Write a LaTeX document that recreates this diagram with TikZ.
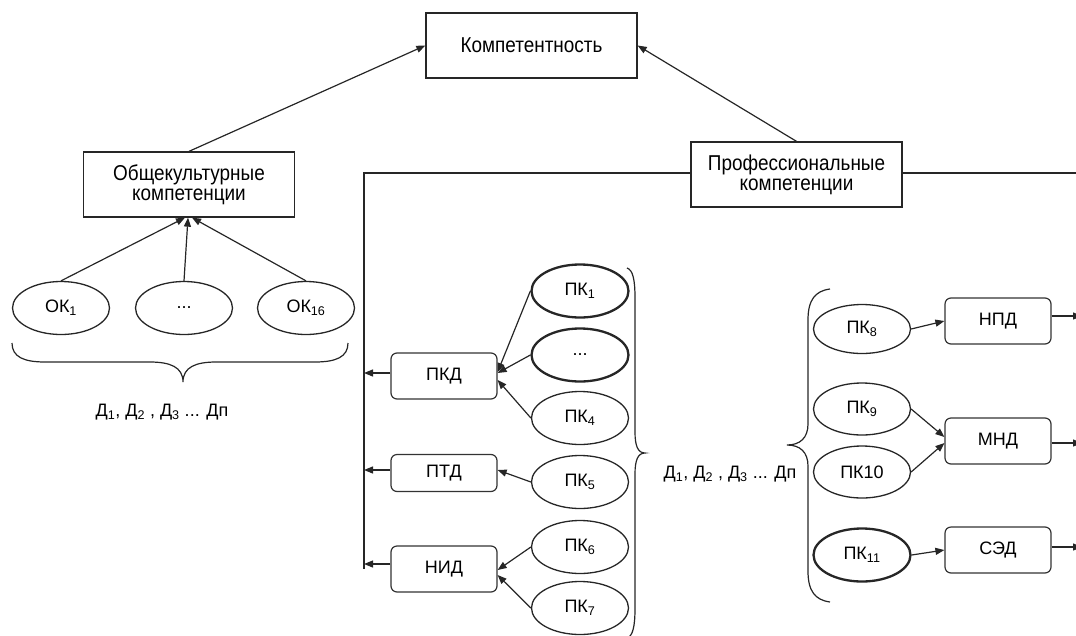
\documentclass[tikz,border=0pt]{standalone}
\usepackage{fontspec}
\setmainfont{Liberation Sans}
\newfontfamily\condf[FakeStretch=0.88]{Liberation Sans}
\usetikzlibrary{shapes.geometric,arrows.meta}
\begin{document}
\begin{tikzpicture}[x=1pt,y=-1pt,
  line/.style={draw=black!85,line width=1.2pt},
  arr/.style={line,-{Triangle[length=9pt,width=7pt]}},
  bigbox/.style={draw=black!85,line width=1.3pt,fill=white,rectangle,minimum width=211pt,minimum height=65pt,inner sep=0pt,align=center,font=\condf\fontsize{21.5}{20}\selectfont},
  rbox/.style={draw=black!80,line width=1.2pt,fill=white,rectangle,rounded corners=6pt,minimum width=106pt,minimum height=46pt,inner sep=0pt,font=\fontsize{18}{20}\selectfont},
  oval/.style={draw=black!85,line width=1.3pt,ellipse,minimum width=97pt,minimum height=53pt,inner sep=0pt,font=\fontsize{18}{20}\selectfont},
  thickoval/.style={oval,line width=2.3pt},
  lbl/.style={inner sep=0pt,font=\fontsize{18}{20}\selectfont}
]
\useasboundingbox (0,0) rectangle (1076,635);
\clip (0,0) rectangle (1076,635);

% top level
\node[bigbox] (komp) at (531.5,45.5) {Компетентность};
\node[bigbox] (obk) at (189,184.5) {Общекультурные\\компетенции};

% professional line
\coordinate (vtop) at (364,173);
\coordinate (redge) at (1082,173);
\draw[line] (redge) -- (vtop) -- (364,569);
\node[bigbox] (prof) at (796.5,174.5) {Профессиональные\\компетенции};

\draw[arr] (obk.north) -- (komp.west);
\draw[arr] (prof.north) -- (komp.east);

% general competences
\node[oval] (ok1) at (61,308) {ОК\textsubscript{1}};
\node[oval] (okd) at (184,308) {...};
\node[oval] (ok16) at (306,308) {ОК\textsubscript{16}};
\draw[arr] (ok1.north) -- ([xshift=-4pt]obk.south);
\draw[arr] (okd.north) -- ([xshift=-1pt]obk.south);
\draw[arr] (ok16.north) -- ([xshift=3pt]obk.south);

\draw[line] (12,343) .. controls (12,357) and (24,362) .. (45,362) -- (150,362)
  .. controls (170,362) and (183,367) .. (183,382)
  .. controls (183,367) and (196,362) .. (216,362) -- (315,362)
  .. controls (336,362) and (348,357) .. (348,343);
\node[lbl] (dl1) at (162,412) {Д\textsubscript{1}, Д\textsubscript{2} , Д\textsubscript{3} ... Дп};

% left activity boxes
\node[rbox] (pkd) at (444,376) {ПКД};
\node[rbox,minimum height=37pt] (ptd) at (444,473) {ПТД};
\node[rbox] (nid) at (444,569) {НИД};
\draw[arr] ([yshift=3pt]pkd.west) -- ([yshift=3pt]pkd.west -| vtop);
\draw[arr] ([yshift=3pt]ptd.west) -- ([yshift=3pt]ptd.west -| vtop);
\draw[arr] ([yshift=5pt]nid.west) -- ([yshift=5pt]nid.west -| vtop);

\node[thickoval] (pk1) at (580,291) {ПК\textsubscript{1}};
\node[thickoval] (pkdots) at (580,355) {...};
\node[oval] (pk4) at (580,418) {ПК\textsubscript{4}};
\node[oval] (pk5) at (580,482) {ПК\textsubscript{5}};
\node[oval] (pk6) at (580,547) {ПК\textsubscript{6}};
\node[oval] (pk7) at (580,608) {ПК\textsubscript{7}};

\draw[arr] (pk1.west) -- ([yshift=4pt]pkd.east);
\draw[arr] (pkdots.west) -- ([yshift=3pt]pkd.east);
\draw[arr] (pk4.west) -- ([yshift=-4pt]pkd.east);
\draw[arr] (pk5.west) -- ([yshift=3pt]ptd.east);
\draw[arr] (pk6.west) -- ([yshift=-1pt]nid.east);
\draw[arr] (pk7.west) -- ([yshift=-6pt]nid.east);

\draw[line] (627,268) .. controls (633,270) and (635,280) .. (635,298) -- (635,432)
  .. controls (635,446) and (638,453) .. (645,453)
  .. controls (638,453) and (635,460) .. (635,474) -- (635,608)
  .. controls (635,626) and (633,636) .. (627,638);

\node[lbl] (dl2) at (730,474) {Д\textsubscript{1}, Д\textsubscript{2} , Д\textsubscript{3} ... Дп};

\draw[line] (830,289) .. controls (815,291) and (808,300) .. (808,320) -- (808,424)
  .. controls (808,438) and (800,445) .. (787,445)
  .. controls (800,445) and (808,452) .. (808,466) -- (808,571)
  .. controls (808,591) and (815,600) .. (830,602);

% right side
\node[oval,minimum height=49pt] (pk8) at (862,329) {ПК\textsubscript{8}};
\node[oval,minimum height=52pt] (pk9) at (862,409) {ПК\textsubscript{9}};
\node[oval,minimum height=52pt] (pk10) at (862,472) {ПК10};
\node[thickoval,minimum height=53pt] (pk11) at (862,555) {ПК\textsubscript{11}};

\node[rbox] (npd) at (998,321) {НПД};
\node[rbox] (mnd) at (998,441) {МНД};
\node[rbox] (sed) at (998,550) {СЭД};

\draw[arr] (pk8.east) -- (npd.west);
\draw[arr] (pk9.east) -- ([yshift=4pt]mnd.west);
\draw[arr] (pk10.east) -- ([yshift=-2pt]mnd.west);
\draw[arr] (pk11.east) -- (sed.west);

\draw[arr] ([yshift=5pt]npd.east) -- ([yshift=5pt]npd.east -| redge);
\draw[arr] ([yshift=-2pt]mnd.east) -- ([yshift=-2pt]mnd.east -| redge);
\draw[arr] ([yshift=3pt]sed.east) -- ([yshift=3pt]sed.east -| redge);
\end{tikzpicture}
\end{document}
